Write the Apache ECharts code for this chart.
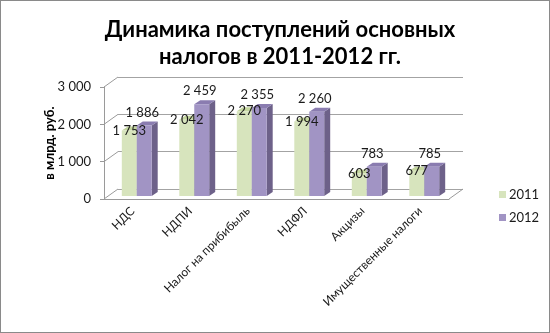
<!DOCTYPE html>
<html>
<head>
<meta charset="utf-8">
<script src="https://cdn.jsdelivr.net/npm/echarts@6/dist/echarts.min.js"></script>
<style>
  html, body { margin: 0; padding: 0; background: #fff; }
  #chart { width: 550px; height: 333px; box-sizing: border-box; border: 1px solid #8a8a8a; }
</style>
</head>
<body>
<div id="chart"></div>
<script>
  // данные
  const categories = ['НДС', 'НДПИ', 'Налог на прибибыль', 'НДФЛ', 'Акцизы', 'Имущественные налоги']
  const values2011 = [1753, 2042, 2270, 1994, 603, 677]
  const values2012 = [1886, 2459, 2355, 2260, 783, 785]
  const yTicks = [0, 1000, 2000, 3000]

  const FONT = 'Lato, "Open Sans", sans-serif'
  // глубина "3D" стенки
  const DX = 14
  const DY = 10
  const grid0 = { left: 103, top: 86, width: 345, height: 112 }

  const fmt = (v) => String(v).replace(/\B(?=(\d{3})+(?!\d))/g, ' ')

  const colors = {
    '2011': { front: '#d7e4bd', side: '#a9bb86', top: '#c4d69f' },
    '2012': { front: '#a194c4', side: '#6d6189', top: '#8a7cb0' },
  }

  function barRenderer(yearIdx, c) {
    return function (params, api) {
      const i = api.value(0)
      const v = api.value(1)
      const base = api.coord([i, 0])
      const tip = api.coord([i, v])
      const w = api.size([1, 0])[0] * 0.26
      const dpx = 6
      const dpy = 4
      const x0 = base[0] + 4 + (yearIdx === 0 ? -w : 0)
      const yb = base[1] - 3
      const yt = tip[1] - 3
      const label = yearIdx === 0
        ? { x: x0 + w / 2, y: yt }
        : { x: x0 + w / 2 - 2, y: yt - 13 }
      return {
        type: 'group',
        children: [
          {
            type: 'polygon',
            shape: { points: [[x0 + w, yt], [x0 + w + dpx, yt - dpy], [x0 + w + dpx, yb - dpy], [x0 + w, yb]] },
            style: { fill: c.side },
          },
          {
            type: 'polygon',
            shape: { points: [[x0, yt], [x0 + dpx, yt - dpy], [x0 + w + dpx, yt - dpy], [x0 + w, yt]] },
            style: { fill: c.top },
          },
          {
            type: 'rect',
            shape: { x: x0, y: yt, width: w, height: yb - yt },
            style: { fill: c.front },
          },
          {
            type: 'text',
            z2: 10,
            style: {
              text: fmt(v), x: label.x, y: label.y,
              align: 'center', verticalAlign: 'middle',
              font: '13px ' + FONT, fill: '#1a1a1a',
            },
          },
        ],
      }
    }
  }

  // диагонали от передней оси к задней стенке и правый край пола
  function frameRenderer(params, api) {
    const v = api.value(1)
    const cs = params.coordSys
    const y = api.coord([0, v])[1]
    const lineStyle = { stroke: '#9a9a9a', lineWidth: 1 }
    const children = [
      { type: 'line', shape: { x1: cs.x, y1: y, x2: cs.x + DX, y2: y - DY }, style: lineStyle },
    ]
    if (v === 0) {
      children.push({
        type: 'line',
        shape: { x1: cs.x + cs.width, y1: y, x2: cs.x + cs.width + DX, y2: y - DY },
        style: lineStyle,
      })
    }
    return { type: 'group', children }
  }

  const chart = echarts.init(document.getElementById('chart'))

  const option = {
    animation: false,
    title: {
      text: 'Динамика поступлений основных\nналогов в 2011-2012 гг.',
      left: 274,
      textAlign: 'center',
      top: 10,
      textStyle: { fontFamily: FONT, fontWeight: 'bold', fontSize: 22, lineHeight: 27, color: '#000' },
    },
    legend: {
      orient: 'vertical',
      left: 493,
      top: 182,
      itemWidth: 7,
      itemHeight: 7,
      itemGap: 10,
      icon: 'rect',
      textStyle: { fontFamily: FONT, fontSize: 13, color: '#1a1a1a', padding: [0, 0, 0, -2] },
      data: ['2011', '2012'],
    },
    grid: [
      { left: grid0.left, top: grid0.top, width: grid0.width, height: grid0.height },
      { left: grid0.left + DX, top: grid0.top - DY, width: grid0.width, height: grid0.height },
    ],
    xAxis: [
      {
        type: 'category',
        gridIndex: 0,
        data: categories,
        axisLine: { show: true, lineStyle: { color: '#9a9a9a' } },
        axisTick: { show: false },
        axisLabel: {
          rotate: 45,
          interval: 0,
          margin: 10,
          fontFamily: FONT,
          fontSize: 12,
          color: '#1a1a1a',
        },
      },
      {
        type: 'category',
        gridIndex: 1,
        data: categories,
        show: false,
      },
    ],
    yAxis: [
      {
        type: 'value',
        gridIndex: 0,
        min: 0,
        max: 3000,
        interval: 1000,
        name: 'в млрд. руб.',
        nameLocation: 'middle',
        nameRotate: 90,
        nameGap: 48,
        nameMoveOverlap: false,
        nameTextStyle: { fontFamily: FONT, fontSize: 13, fontWeight: 'bold', color: '#000' },
        axisLine: { show: true, lineStyle: { color: '#9a9a9a' } },
        axisTick: { show: true, length: 4, lineStyle: { color: '#9a9a9a' } },
        splitLine: { show: false },
        axisLabel: {
          margin: 13,
          fontFamily: FONT,
          fontSize: 13,
          color: '#1a1a1a',
          formatter: (v) => fmt(v),
        },
      },
      {
        type: 'value',
        gridIndex: 1,
        min: 0,
        max: 3000,
        interval: 1000,
        axisLine: { show: false },
        axisTick: { show: false },
        axisLabel: { show: false },
        splitLine: { show: true, lineStyle: { color: '#a3a3a3', width: 1 } },
      },
    ],
    series: [
      {
        name: 'frame',
        type: 'custom',
        xAxisIndex: 0,
        yAxisIndex: 0,
        silent: true,
        z: 1,
        renderItem: frameRenderer,
        encode: { x: 0, y: 1 },
        data: yTicks.map((v) => [0, v]),
      },
      {
        name: '2011',
        type: 'custom',
        xAxisIndex: 0,
        yAxisIndex: 0,
        itemStyle: { color: colors['2011'].front },
        renderItem: barRenderer(0, colors['2011']),
        encode: { x: 0, y: 1 },
        data: values2011.map((v, i) => [i, v]),
      },
      {
        name: '2012',
        type: 'custom',
        xAxisIndex: 0,
        yAxisIndex: 0,
        itemStyle: { color: colors['2012'].front },
        renderItem: barRenderer(1, colors['2012']),
        encode: { x: 0, y: 1 },
        data: values2012.map((v, i) => [i, v]),
      },
    ],
  }

  chart.setOption(option)
</script>
</body>
</html>
